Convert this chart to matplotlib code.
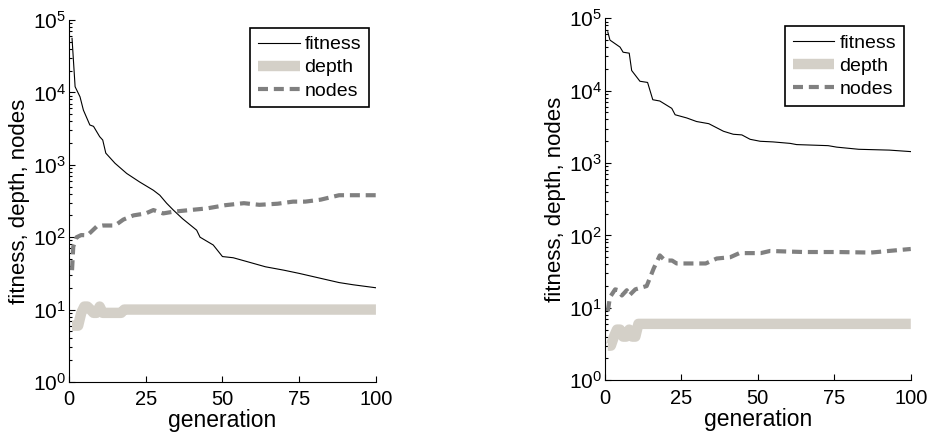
import matplotlib
matplotlib.use('Agg')
import matplotlib.pyplot as plt
from matplotlib.ticker import LogLocator, LogFormatterSciNotation, NullFormatter

plt.rcParams['font.family'] = ['Liberation Sans', 'DejaVu Sans']
plt.rcParams['mathtext.fontset'] = 'custom'
plt.rcParams['mathtext.rm'] = 'Liberation Sans'
plt.rcParams['mathtext.it'] = 'Liberation Sans'
plt.rcParams['font.size'] = 14

# Left run
left_fit_gen = [1, 2, 3.6, 4.7, 6.8, 8, 10, 11, 12, 15, 18.8, 23, 27.5, 29.6, 31.8, 34, 37,
                41.6, 42.7, 47, 50, 53.5, 58, 64, 70, 75, 82, 88, 92.6, 100]
left_fitness = [56000, 12000, 8700, 5700, 3550, 3400, 2450, 2200, 1450, 1050, 760, 580, 445,
                380, 295, 237, 180, 125, 100, 78, 54, 52, 46, 39, 35, 31.6, 27, 23.6, 22, 20]
left_depth_gen = [1, 2, 3, 4, 5, 6, 7, 8, 9, 10, 11, 17, 18, 100]
left_depth = [6, 6, 6, 9, 11, 11, 10, 9, 9, 11, 9, 9, 10, 10]
left_node_gen = [1, 1.4, 2.5, 4, 6, 9, 11, 15, 17.7, 21, 25, 27.5, 30.7, 34, 39.4, 45, 51, 57,
                 62, 68, 73, 77, 82, 88, 100]
left_nodes = [35, 74, 100, 107, 106, 140, 145, 145, 175, 200, 213, 237, 213, 225, 237, 250, 277,
              295, 280, 290, 310, 310, 330, 380, 380]

# Right run
right_fit_gen = [1, 1.7, 5, 6, 8, 8.8, 11.5, 14, 15.7, 18, 21.9, 23, 26.8, 30, 34, 38.8, 42,
                 44.8, 47.5, 50.8, 55, 60.6, 62.7, 73, 75.8, 83, 93, 100]
right_fitness = [65000, 50000, 40000, 34000, 33000, 19000, 13500, 13000, 7500, 7200, 5700, 4650,
                 4200, 3750, 3500, 2750, 2500, 2450, 2130, 2000, 1960, 1870, 1800, 1740, 1660,
                 1550, 1510, 1440]
right_depth_gen = [1, 2, 3, 4, 5, 6, 7, 8, 9, 10, 11, 100]
right_depth = [3, 3, 4, 5, 5, 4, 4, 5, 4, 4, 6, 6]
right_node_gen = [1, 1.7, 3.4, 4.5, 5.6, 7.2, 8, 10, 13.7, 16, 18, 19.7, 22, 23.5, 33, 36.6, 41,
                  44, 51, 54, 65, 76, 87, 100]
right_nodes = [9, 14, 18, 17.5, 14.8, 17.5, 14.8, 18, 20, 35, 53, 45, 45, 41, 41, 48, 50, 57, 57,
               61, 59, 59, 58, 65]

depth_color = '#d4d0c8'
node_color = '#808080'

fig = plt.figure(figsize=(9.37, 4.36), dpi=100)
ax1 = fig.add_axes([0.0736, 0.124, 0.3276, 0.830])
ax2 = fig.add_axes([0.6454, 0.128, 0.3266, 0.830])

runs = [
    (ax1, left_fit_gen, left_fitness, left_depth_gen, left_depth, left_node_gen, left_nodes),
    (ax2, right_fit_gen, right_fitness, right_depth_gen, right_depth, right_node_gen, right_nodes),
]

for ax, fg, fv, dg, dv, ng, nv in runs:
    ax.plot(fg, fv, color='black', lw=0.8, label='fitness')
    ax.plot(dg, dv, color=depth_color, lw=7.5, solid_joinstyle='round',
            solid_capstyle='butt', label='depth')
    ax.plot(ng, nv, color=node_color, lw=3, dashes=(2.4, 1.4), label='nodes')
    ax.set_yscale('log')
    ax.set_ylim(1, 1e5)
    ax.set_xlim(0, 100)
    ax.set_xticks([0, 25, 50, 75, 100])
    ax.yaxis.set_major_locator(LogLocator(base=10, numticks=10))
    ax.yaxis.set_major_formatter(LogFormatterSciNotation())
    ax.yaxis.set_minor_locator(LogLocator(base=10, subs=range(2, 10), numticks=20))
    ax.yaxis.set_minor_formatter(NullFormatter())
    ax.spines['top'].set_visible(False)
    ax.spines['right'].set_visible(False)
    ax.tick_params(direction='in', which='both', length=4, width=0.8)
    ax.tick_params(which='minor', length=2.5)
    ax.tick_params(axis='x', pad=6, labelsize=14.5)
    ax.tick_params(axis='y', pad=2, labelsize=15)
    ax.set_xlabel('generation', fontsize=16.5, labelpad=0)
    ax.set_ylabel('fitness, depth, nodes', fontsize=16, labelpad=2)
    leg = ax.legend(loc='upper right', bbox_to_anchor=(0.977, 0.978), fontsize=14,
                    fancybox=False, framealpha=1, edgecolor='black', handlelength=2.15,
                    handletextpad=0.25, borderpad=0.4, labelspacing=0.28,
                    borderaxespad=0)
    leg.get_frame().set_linewidth(1.2)

fig.savefig('out.png', dpi=100)
